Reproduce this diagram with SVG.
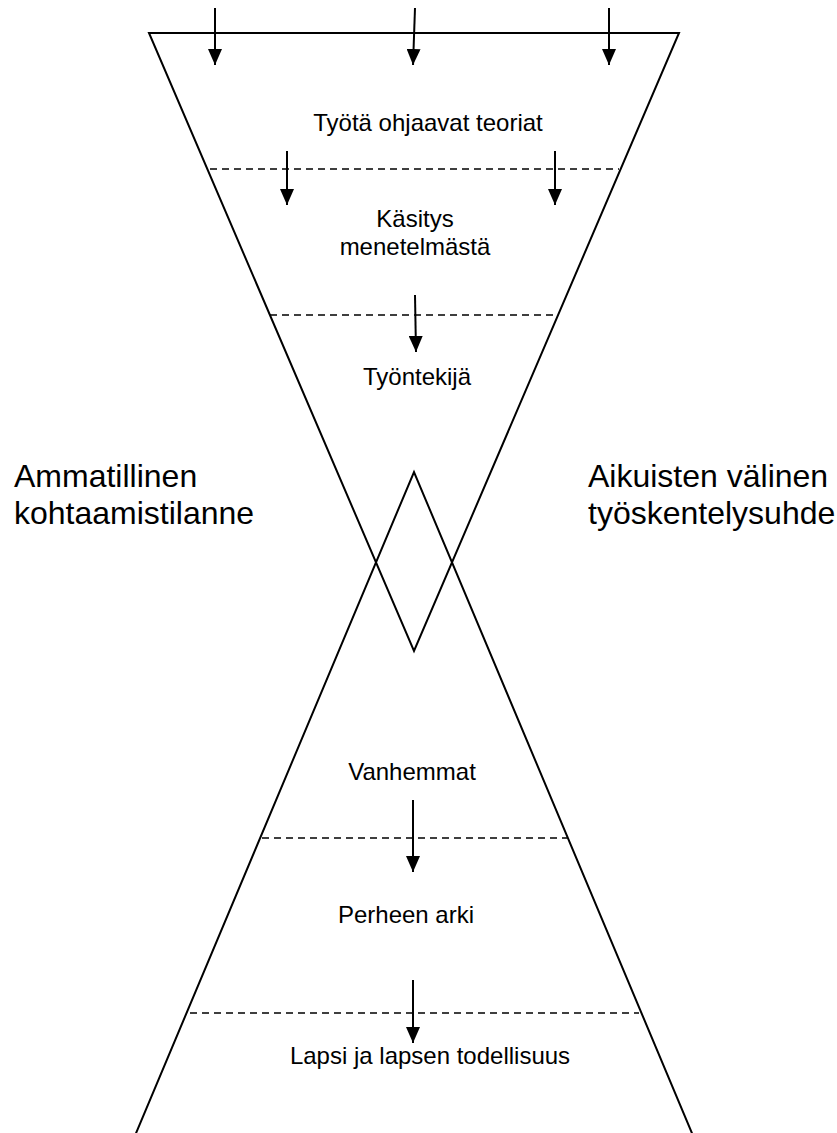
<svg xmlns="http://www.w3.org/2000/svg" width="837" height="1133" viewBox="0 0 837 1133">
<style>
.edge{stroke:#000;stroke-width:2;fill:none}
.dash{stroke:#000;stroke-width:1.6;stroke-dasharray:7 5;fill:none}
.arr{stroke:#000;stroke-width:2;fill:none;marker-end:url(#ah)}
.lbl{font-family:"Liberation Sans",Arial,sans-serif;font-size:24px;fill:#000;text-anchor:middle}
.side{font-family:"Liberation Sans",Arial,sans-serif;font-size:32px;fill:#000}
</style>
<defs>
<marker id="ah" viewBox="0 0 16 14" refX="16" refY="7" markerWidth="16" markerHeight="14" markerUnits="userSpaceOnUse" orient="auto">
<path d="M0,0 L16,7 L0,14 z" fill="#000"/>
</marker>
</defs>
<rect width="837" height="1133" fill="#fff"/>
<g id="funnel-top">
<polygon class="edge" points="149,33 679,33 414,651"/>
</g>
<g id="funnel-bottom">
<polyline class="edge" points="134,1138 414,472 694,1138"/>
</g>
<g id="dividers">
<line class="dash" x1="210" y1="169" x2="619" y2="169"/>
<line class="dash" x1="270" y1="315" x2="557" y2="315"/>
<line class="dash" x1="262" y1="838" x2="567" y2="838"/>
<line class="dash" x1="190" y1="1013" x2="639" y2="1013"/>
</g>
<g id="connectors">
<line class="arr" x1="215" y1="8" x2="215" y2="65"/>
<line class="arr" x1="415" y1="8" x2="413" y2="65"/>
<line class="arr" x1="609" y1="8" x2="609" y2="65"/>
<line class="arr" x1="287" y1="151" x2="287" y2="205"/>
<line class="arr" x1="555" y1="151" x2="555" y2="205"/>
<line class="arr" x1="415" y1="295" x2="416" y2="352"/>
<line class="arr" x1="413" y1="800" x2="413" y2="872"/>
<line class="arr" x1="413" y1="980" x2="413" y2="1043"/>
</g>
<g id="node-teoriat"><text class="lbl" x="428" y="131">Työtä ohjaavat teoriat</text></g>
<g id="node-kasitys"><text class="lbl" x="415" y="227">Käsitys</text><text class="lbl" x="415" y="255">menetelmästä</text></g>
<g id="node-tyontekija"><text class="lbl" x="417" y="385">Työntekijä</text></g>
<g id="node-vanhemmat"><text class="lbl" x="412" y="780">Vanhemmat</text></g>
<g id="node-arki"><text class="lbl" x="406" y="923">Perheen arki</text></g>
<g id="node-lapsi"><text class="lbl" x="430" y="1064">Lapsi ja lapsen todellisuus</text></g>
<g id="label-left"><text class="side" x="14" y="487">Ammatillinen</text><text class="side" x="14" y="524">kohtaamistilanne</text></g>
<g id="label-right"><text class="side" x="588" y="487">Aikuisten välinen</text><text class="side" x="588" y="524">työskentelysuhde</text></g>
</svg>
